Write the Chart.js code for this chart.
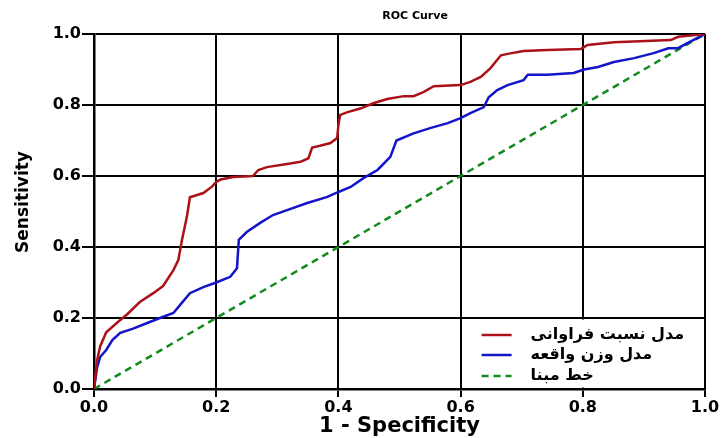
<!DOCTYPE html>
<html>
<head>
<meta charset="utf-8">
<script src="https://cdn.jsdelivr.net/npm/chart.js@4"></script>
<style>
  body { margin: 0; background: #fff; }
</style>
</head>
<body>
<canvas id="roc" width="721" height="438"></canvas>
<script>
const chartTitle = 'ROC Curve';
const xTitle = '1 - Specificity';
const yTitle = 'Sensitivity';
const seriesNames = ['مدل نسبت فراوانی', 'مدل وزن واقعه', 'خط مبنا'];
const tickValues = [0, 0.2, 0.4, 0.6, 0.8, 1.0];

// frequency ratio model
const redX = [0, 0.005, 0.01, 0.02, 0.04, 0.054, 0.075, 0.097, 0.113, 0.13, 0.138, 0.144, 0.152, 0.157,
  0.179, 0.193, 0.2, 0.207, 0.228, 0.26, 0.269, 0.283, 0.316, 0.338, 0.351, 0.357, 0.37, 0.387, 0.398,
  0.4, 0.403, 0.415, 0.436, 0.457, 0.48, 0.507, 0.523, 0.54, 0.556, 0.6, 0.616, 0.633, 0.649, 0.657,
  0.666, 0.677, 0.703, 0.742, 0.797, 0.808, 0.851, 0.944, 0.956, 1];
const redY = [0, 0.08, 0.12, 0.16, 0.19, 0.21, 0.245, 0.27, 0.29, 0.335, 0.363, 0.42, 0.485, 0.54,
  0.552, 0.57, 0.583, 0.59, 0.597, 0.6, 0.617, 0.625, 0.634, 0.64, 0.65, 0.68, 0.685, 0.693, 0.707,
  0.744, 0.772, 0.78, 0.79, 0.805, 0.817, 0.825, 0.825, 0.837, 0.853, 0.856, 0.865, 0.879, 0.904, 0.921,
  0.94, 0.944, 0.952, 0.955, 0.958, 0.969, 0.977, 0.983, 0.992, 1];

// weights of evidence model
const blueX = [0, 0.005, 0.01, 0.02, 0.03, 0.043, 0.064, 0.087, 0.108, 0.13, 0.141, 0.157, 0.179, 0.2,
  0.223, 0.234, 0.237, 0.25, 0.272, 0.293, 0.316, 0.349, 0.382, 0.4, 0.42, 0.441, 0.464, 0.485, 0.495,
  0.523, 0.55, 0.579, 0.6, 0.616, 0.638, 0.646, 0.66, 0.677, 0.703, 0.71, 0.742, 0.785, 0.802, 0.825,
  0.851, 0.884, 0.916, 0.94, 0.956, 0.972, 1];
const blueY = [0, 0.06, 0.09, 0.11, 0.138, 0.158, 0.17, 0.186, 0.2, 0.214, 0.237, 0.27, 0.287, 0.3,
  0.316, 0.34, 0.42, 0.442, 0.468, 0.49, 0.504, 0.524, 0.541, 0.555, 0.569, 0.594, 0.617, 0.654, 0.70,
  0.72, 0.735, 0.749, 0.763, 0.777, 0.794, 0.822, 0.842, 0.856, 0.87, 0.885, 0.885, 0.89, 0.9, 0.907,
  0.921, 0.932, 0.946, 0.96, 0.96, 0.975, 1];

// reference line
const baseX = [0, 1];
const baseY = [0, 1];

const font = 'DejaVu Sans';

function toPoints(xs, ys) {
  return xs.map((x, i) => ({ x: x, y: ys[i] }));
}

const decorations = {
  id: 'decorations',
  afterDatasetsDraw(chart) {
    const ctx = chart.ctx;
    const xs = chart.scales.x;
    const ys = chart.scales.y;
    const area = chart.chartArea;
    ctx.save();
    ctx.fillStyle = '#000';

    // titles
    ctx.font = 'bold 11px ' + font;
    ctx.textAlign = 'center';
    ctx.textBaseline = 'middle';
    ctx.fillText(chartTitle, 415, 16);

    ctx.font = 'bold 21px ' + font;
    ctx.fillText(xTitle, (area.left + area.right) / 2, 427);

    ctx.save();
    ctx.translate(24, 202);
    ctx.rotate(-Math.PI / 2);
    ctx.font = 'bold 17px ' + font;
    ctx.fillText(yTitle, 0, 0);
    ctx.restore();

    // legend in the lower right cell
    const left = xs.getPixelForValue(0.6);
    const right = xs.getPixelForValue(1);
    const top = ys.getPixelForValue(0.2);
    const bottom = ys.getPixelForValue(0);
    ctx.fillStyle = '#fff';
    ctx.fillRect(left + 1.5, top + 1.5, right - left - 3, bottom - top - 3);

    const rows = [17, 37, 58];
    chart.data.datasets.forEach((ds, i) => {
      const y = top + rows[i];
      ctx.strokeStyle = ds.borderColor;
      ctx.lineWidth = 2.5;
      ctx.setLineDash(ds.borderDash || []);
      ctx.beginPath();
      ctx.moveTo(left + 21, y);
      ctx.lineTo(left + 51, y);
      ctx.stroke();
      ctx.setLineDash([]);
      ctx.fillStyle = '#000';
      ctx.font = 'bold 16px ' + font;
      ctx.direction = 'rtl';
      ctx.textAlign = 'left';
      ctx.fillText(ds.label, left + 70, y);
    });
    ctx.restore();
  }
};

new Chart(document.getElementById('roc'), {
  type: 'scatter',
  data: {
    datasets: [{
      label: seriesNames[0],
      data: toPoints(redX, redY),
      showLine: true,
      borderColor: '#aa1218',
      borderWidth: 2.5,
      pointRadius: 0,
      tension: 0
    }, {
      label: seriesNames[1],
      data: toPoints(blueX, blueY),
      showLine: true,
      borderColor: '#1414c8',
      borderWidth: 2.5,
      pointRadius: 0,
      tension: 0
    }, {
      label: seriesNames[2],
      data: toPoints(baseX, baseY),
      showLine: true,
      borderColor: '#118a1e',
      borderWidth: 2.5,
      borderDash: [7, 5],
      pointRadius: 0
    }]
  },
  options: {
    responsive: false,
    animation: false,
    layout: { padding: { left: 0, right: 16, top: 34, bottom: 0 } },
    plugins: {
      legend: { display: false },
      title: { display: false },
      tooltip: { enabled: false }
    },
    scales: {
      x: {
        type: 'linear',
        min: 0,
        max: 1,
        afterFit: s => { s.height = 49; },
        afterBuildTicks: s => { s.ticks = tickValues.map(v => ({ value: v })); },
        ticks: {
          color: '#000',
          padding: 1,
          maxRotation: 0,
          font: { family: font, weight: 'bold', size: 16 },
          callback: v => v.toFixed(1)
        },
        grid: { color: '#000', lineWidth: 2, tickLength: 8 },
        border: { color: '#000', width: 2.5 }
      },
      y: {
        type: 'linear',
        min: 0,
        max: 1,
        afterFit: s => { s.width = 94; },
        afterBuildTicks: s => { s.ticks = tickValues.map(v => ({ value: v })); },
        ticks: {
          color: '#000',
          padding: 1,
          font: { family: font, weight: 'bold', size: 16 },
          callback: v => v.toFixed(1)
        },
        grid: { color: '#000', lineWidth: 2, tickLength: 12 },
        border: { color: '#000', width: 2.5 }
      }
    }
  },
  plugins: [decorations]
});
</script>
</body>
</html>
